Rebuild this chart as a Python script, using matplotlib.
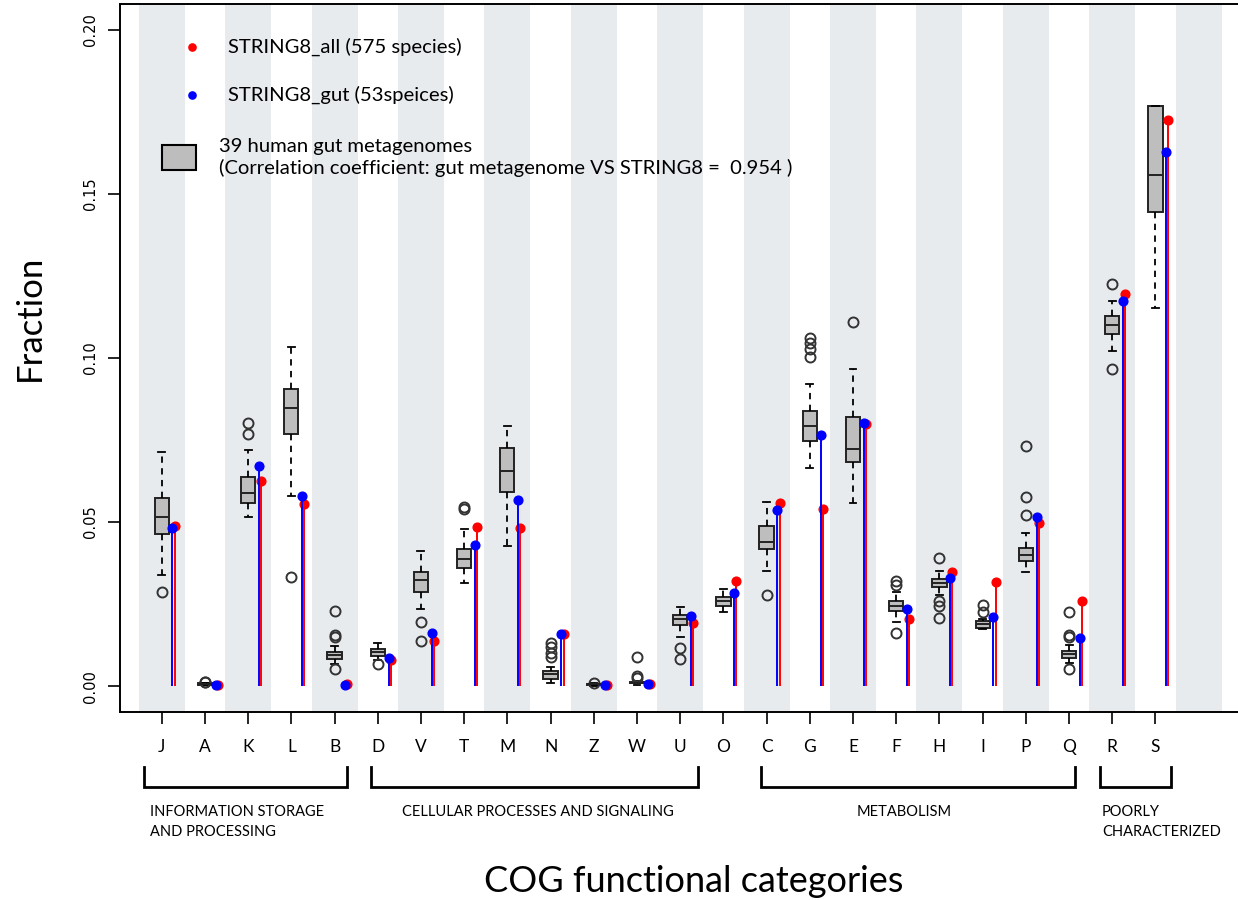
import numpy as np
import matplotlib
matplotlib.use("Agg")
import matplotlib.pyplot as plt
from matplotlib.patches import Rectangle
from matplotlib.transforms import blended_transform_factory

# COG categories in plotting order
cats = ["J", "A", "K", "L", "B", "D", "V", "T", "M", "N", "Z", "W", "U", "O",
        "C", "G", "E", "F", "H", "I", "P", "Q", "R", "S"]

# gut metagenome box statistics (39 samples)
q1 = [0.0465, 0.0004, 0.0557, 0.0767, 0.0082, 0.0091, 0.0288, 0.0359, 0.0591, 0.0023, 0.0003, 0.0008,
      0.0186, 0.0244, 0.0418, 0.0748, 0.0682, 0.0230, 0.0302, 0.0178, 0.0381, 0.0086, 0.1074, 0.1445]
med = [0.0516, 0.0006, 0.0590, 0.0847, 0.0094, 0.0105, 0.0323, 0.0387, 0.0656, 0.0036, 0.0005, 0.0010,
       0.0203, 0.0260, 0.0440, 0.0794, 0.0722, 0.0244, 0.0314, 0.0188, 0.0401, 0.0097, 0.1100, 0.1557]
q3 = [0.0574, 0.0008, 0.0636, 0.0905, 0.0103, 0.0114, 0.0347, 0.0417, 0.0727, 0.0047, 0.0007, 0.0012,
      0.0218, 0.0270, 0.0489, 0.0837, 0.0819, 0.0258, 0.0325, 0.0198, 0.0422, 0.0107, 0.1128, 0.1767]
whislo = [0.0338, 0.0002, 0.0514, 0.0579, 0.0068, 0.0080, 0.0234, 0.0313, 0.0428, 0.0008, 0.0001, 0.0004,
          0.0150, 0.0227, 0.0352, 0.0664, 0.0557, 0.0195, 0.0279, 0.0173, 0.0349, 0.0069, 0.1021, 0.1151]
whishi = [0.0714, 0.0010, 0.0720, 0.1034, 0.0123, 0.0130, 0.0413, 0.0478, 0.0794, 0.0059, 0.0009, 0.0016,
          0.0242, 0.0296, 0.0560, 0.0922, 0.0966, 0.0286, 0.0351, 0.0205, 0.0468, 0.0125, 0.1175, 0.1767]
fliers = [[0.0286], [0.0013, 0.0011], [0.0801, 0.0767], [0.0331], [0.0229, 0.0155, 0.0150, 0.0051],
          [0.0066], [0.0194, 0.0137], [0.0547, 0.0541], [], [0.0130, 0.0118, 0.0100, 0.0089],
          [0.0010], [0.0089, 0.0030, 0.0024], [0.0115, 0.0084], [], [0.0277],
          [0.1062, 0.1046, 0.1027, 0.1002], [0.1109], [0.0321, 0.0308, 0.0163],
          [0.0391, 0.0258, 0.0244, 0.0209], [0.0247, 0.0226], [0.0731, 0.0577, 0.0521],
          [0.0227, 0.0155, 0.0150, 0.0051], [0.1226, 0.0967], []]

# STRING8 fractions
string_all = [0.0489, 0.0004, 0.0625, 0.0554, 0.0005, 0.0079, 0.0137, 0.0484, 0.0483, 0.0160, 0.0003, 0.0005,
              0.0193, 0.0319, 0.0557, 0.0539, 0.0800, 0.0205, 0.0349, 0.0318, 0.0498, 0.0258, 0.1196, 0.1726]
string_gut = [0.0481, 0.0004, 0.0672, 0.0580, 0.0003, 0.0086, 0.0161, 0.0430, 0.0567, 0.0159, 0.0003, 0.0005,
              0.0214, 0.0285, 0.0537, 0.0765, 0.0801, 0.0234, 0.0330, 0.0212, 0.0514, 0.0146, 0.1175, 0.1627]

groups = ["INFORMATION STORAGE\nAND PROCESSING", "CELLULAR PROCESSES AND SIGNALING",
          "METABOLISM", "POORLY\nCHARACTERIZED"]
group_spans = [(0.59, 5.30), (5.85, 13.41), (14.87, 22.13), (22.71, 24.35)]

label_font = ["Lato", "DejaVu Sans"]

fig = plt.figure(figsize=(12.38, 9), dpi=100)
ax = fig.add_axes([120 / 1238, 1 - 712 / 900, 1 - 120 / 1238, (712 - 4) / 900])

x = np.arange(1, len(cats) + 1)

# alternating background stripes
for s in range(1, len(cats) + 2, 2):
    ax.axvspan(s - 0.532, s + 0.532, color="#e8ebee", lw=0, zorder=0)

stats = [dict(q1=a, med=b, q3=c, whislo=d, whishi=e, fliers=f)
         for a, b, c, d, e, f in zip(q1, med, q3, whislo, whishi, fliers)]
ax.bxp(stats, positions=x, widths=0.33, patch_artist=True, manage_ticks=False,
       boxprops=dict(facecolor="#bebebe", edgecolor="#222222", lw=1.4),
       medianprops=dict(color="#222222", lw=1.4),
       whiskerprops=dict(color="black", lw=1.3, linestyle=(0, (3.5, 3))),
       capprops=dict(color="black", lw=1.3), capwidths=0.16,
       flierprops=dict(marker="o", markerfacecolor="none", markeredgecolor="#333333",
                       markersize=7.2, markeredgewidth=1.4),
       zorder=3)

xr = x + 0.30
xb = x + 0.25
ax.vlines(xr, 0, string_all, color="#ff0000", lw=1.4, zorder=4)
ax.plot(xr, string_all, "o", color="#ff0000", ms=6.3, zorder=4)
ax.vlines(xb, 0, string_gut, color="#0000ff", lw=1.4, zorder=5)
ax.plot(xb, string_gut, "o", color="#0000ff", ms=6.3, zorder=5)

ax.set_xlim(0.035, 25.91)
ax.set_ylim(-0.0079, 0.2079)
ax.set_xticks(x)
ax.set_xticklabels(cats, family=label_font, fontsize=12.5)
ax.set_yticks([0, 0.05, 0.10, 0.15, 0.20])
ax.set_yticklabels(["0.00", "0.05", "0.10", "0.15", "0.20"], rotation=90, va="center",
                   family=["DejaVu Sans"], fontsize=10.5)
ax.tick_params(axis="x", length=8.5, width=1.2, pad=11)
ax.tick_params(axis="y", length=8.5, width=1.2, pad=7)
for side in ["left", "bottom", "top"]:
    ax.spines[side].set_linewidth(1.4)
ax.spines["right"].set_visible(False)

# legend
ta = ax.transAxes
ax.plot([0.0644], [0.9393], "o", color="#ff0000", ms=5.2, transform=ta, clip_on=False)
ax.plot([0.0644], [0.8715], "o", color="#0000ff", ms=5.2, transform=ta, clip_on=False)
ax.text(0.0966, 0.9393, "STRING8_all (575 species)", transform=ta, va="center",
        family=label_font, fontsize=14.6)
ax.text(0.0966, 0.8715, "STRING8_gut (53speices)", transform=ta, va="center",
        family=label_font, fontsize=14.6)
ax.add_patch(Rectangle((0.0376, 0.7655), 0.0304, 0.0353, transform=ta,
                       facecolor="#bdbdbd", edgecolor="black", lw=1.5))
ax.text(0.0886, 0.7832,
        "39 human gut metagenomes\n(Correlation coefficient: gut metagenome VS STRING8 =  0.954 )",
        transform=ta, va="center", family=label_font, fontsize=14.6, linespacing=1.3)

# category group brackets
tb = blended_transform_factory(ax.transData, fig.transFigure)
y_top, y_bot = 1 - 767 / 900, 1 - 787 / 900
for (a, b) in group_spans:
    ax.plot([a, a, b, b], [y_top, y_bot, y_bot, y_top], color="black", lw=2,
            transform=tb, clip_on=False, solid_joinstyle="miter")
ax.text(0.73, 1 - 805 / 900, groups[0], transform=tb, va="top", ha="left",
        family=label_font, fontsize=10.5, linespacing=1.55)
ax.text(9.71, 1 - 805 / 900, groups[1], transform=tb, va="top", ha="center",
        family=label_font, fontsize=10.5)
ax.text(18.19, 1 - 805 / 900, groups[2], transform=tb, va="top", ha="center",
        family=label_font, fontsize=10.5)
ax.text(22.76, 1 - 805 / 900, groups[3], transform=tb, va="top", ha="left",
        family=label_font, fontsize=10.5, linespacing=1.55)

fig.text(0.56, 1 - 881 / 900, "COG functional categories", ha="center", va="center",
         family=label_font, fontsize=26)
fig.text(0.024, 1 - 318 / 900, "Fraction", ha="center", va="center", rotation=90,
         family=label_font, fontsize=25)

fig.savefig("out.png", dpi=100)
